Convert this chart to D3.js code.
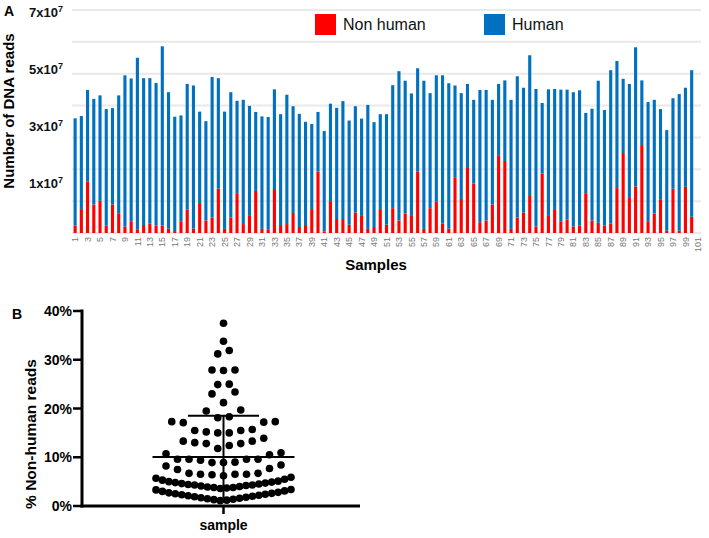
<!DOCTYPE html>
<html><head><meta charset="utf-8">
<script src="https://cdn.jsdelivr.net/npm/d3@7"></script>
<style>body{margin:0;background:#fff} svg{display:block;font-family:"Liberation Sans",Arial,sans-serif}</style>
</head><body><svg id="c" width="709" height="538"></svg>
<script>
// ---------- DATA ----------
const samples = [1,2,3,4,5,6,7,8,9,10,11,12,13,14,15,16,17,18,19,20,21,22,23,24,25,26,27,28,29,30,
 31,32,33,34,35,36,37,38,39,40,41,42,43,44,45,46,47,48,49,50,51,52,53,54,55,56,57,58,59,60,
 61,62,63,64,65,66,67,68,69,70,71,72,73,74,75,76,77,78,79,80,81,82,83,84,85,86,87,88,89,90,
 91,92,93,94,95,96,97,98,99,100,101];
// reads in millions (sample 101 has no bar)
const nonHuman = [2.3,7.5,16.2,8.9,10.1,2.3,8.9,6.2,2.0,3.7,
 1.0,2.5,2.9,2.3,2.3,1.4,0.6,3.7,7.3,1.4,
 9.4,3.9,4.9,13.9,1.3,4.9,12.5,2.8,5.6,13.2,
 1.3,1.0,13.8,2.5,2.8,6.3,1.9,2.5,7.5,19.3,
 0.5,10.0,4.4,4.4,2.6,6.4,5.6,1.3,1.9,7.5,
 2.6,7.8,3.9,6.1,5.6,19.3,1.3,7.8,9.8,3.0,
 1.4,17.5,10.7,20.4,15.5,3.4,3.9,8.9,24.2,22.6,
 1.3,4.9,6.4,11.9,2.0,18.7,5.6,7.5,3.7,4.2,
 2.0,2.4,12.5,3.9,3.2,2.4,3.0,14.1,25.1,11.0,
 14.6,27.6,3.7,6.1,10.4,0.7,13.9,0.7,14.5,5.1];
const human = [33.7,29.2,28.7,33.2,33.1,36.6,30.3,37.0,47.5,44.8,
 54.0,46.1,45.7,44.8,56.3,42.8,35.9,33.2,39.5,44.9,
 28.7,31.2,44.1,34.7,36.8,39.3,29.0,39.0,34.3,24.8,
 35.3,35.4,31.3,34.8,40.6,33.5,35.5,32.4,26.7,18.7,
 31.5,30.6,34.9,37.0,32.7,33.4,30.3,38.9,32.9,29.8,
 34.7,38.6,46.9,41.7,38.2,32.4,46.5,36.1,39.7,46.5,
 45.6,28.8,33.2,26.4,26.3,41.5,41.0,32.9,22.6,25.3,
 40.5,44.3,39.2,43.9,43.2,22.1,39.5,37.7,41.3,40.8,
 42.2,42.4,25.2,35.1,44.6,36.2,48.1,39.9,23.3,35.8,
 43.7,20.3,37.4,35.7,28.5,31.6,28.4,42.9,31.1,46.0];
const seriesNames = ["Non human","Human"];
const seriesColors = ["#ff0000","#0070c0"];
const yTickMantissa = [1,3,5,7];        // x10^7
const gridValues = [0,10,20,30,40,50,60,70]; // millions
const xTickLabels = samples.filter(d => d % 2 === 1);

// Panel B: % non-human reads per sample
const pctNonHuman = [37.5,33.8,31.2,31.9,27.9,27.8,27.9,24.9,25.0,23.0,23.4,21.2,19.5,19.7,18.1,18.3,
 15.0,15.0,15.2,15.5,15.5,15.7,17.1,17.2,17.3,17.3,
 11.8,12.4,12.8,12.8,13.0,13.3,13.3,13.9,
 8.9,8.9,9.0,9.4,9.6,9.6,9.6,9.6,10.5,10.7,10.9,
 6.2,6.4,6.5,6.5,6.5,6.7,6.7,7.5,7.7,8.2,8.4,
 3.6,3.7,3.8,3.8,3.9,4.0,4.1,4.2,4.3,4.3,4.4,4.5,4.6,4.7,4.8,4.9,5.0,5.1,5.3,5.5,5.7,5.9,
 1.1,1.2,1.3,1.4,1.5,1.6,1.7,1.8,1.9,2.0,2.1,2.2,2.3,2.4,2.5,2.6,2.7,2.8,3.0,3.1,3.3,3.4];
const pctTicks = [0,10,20,30,40];

// ---------- CHART ----------
const svg = d3.select("#c");

// ===== Panel A =====
const x = d3.scaleBand().domain(samples).range([72, 701]).paddingInner(0.5).paddingOuter(0.25);
const y = d3.scaleLinear().domain([0, 70]).range([233, 10]);
const yLab = d3.scaleLinear().domain([0, 70]).range([216.5, 17]);

svg.append("g").selectAll("line").data(gridValues).join("line")
  .attr("x1", 72).attr("x2", 701)
  .attr("y1", d => y(d)).attr("y2", d => y(d))
  .attr("stroke", "#e9e9e9").attr("stroke-width", 2);

const rows = nonHuman.map((v, i) => ({sample: samples[i], nonHuman: v, human: human[i]}));
const stack = d3.stack().keys(["nonHuman", "human"])(rows);
svg.append("g").selectAll("g").data(stack).join("g")
  .attr("fill", (d, i) => seriesColors[i])
  .selectAll("rect").data(d => d).join("rect")
  .attr("x", d => x(d.data.sample)).attr("width", x.bandwidth())
  .attr("y", d => y(d[1])).attr("height", d => y(d[0]) - y(d[1]));

// y tick labels
const yt = svg.append("g").selectAll("text").data(yTickMantissa).join("text")
  .attr("x", 63).attr("y", d => yLab(d * 10))
  .attr("text-anchor", "end").attr("font-weight", "bold").attr("font-size", 13).attr("fill", "#111");
yt.append("tspan").text(d => d + "x10");
yt.append("tspan").attr("dy", -5).attr("font-size", 9).text("7");

// x tick labels
svg.append("g").selectAll("text").data(xTickLabels).join("text")
  .attr("transform", d => `translate(${x(d) + x.bandwidth() / 2},237) rotate(-90)`)
  .attr("text-anchor", "end").attr("dy", "0.35em")
  .attr("font-size", 9).attr("fill", "#777").text(d => d);

svg.append("text").attr("x", 376).attr("y", 270).attr("text-anchor", "middle")
  .attr("font-weight", "bold").attr("font-size", 15).text("Samples");
svg.append("text").attr("transform", "translate(14,111) rotate(-90)").attr("text-anchor", "middle")
  .attr("font-weight", "bold").attr("font-size", 15).text("Number of DNA reads");
svg.append("text").attr("x", 4).attr("y", 16).attr("font-weight", "bold").attr("font-size", 14).text("A");

// legend
const legX = [315, 484];
const leg = svg.append("g").selectAll("g").data(seriesNames).join("g")
  .attr("transform", (d, i) => `translate(${legX[i]},14)`);
leg.append("rect").attr("width", 21).attr("height", 21).attr("fill", (d, i) => seriesColors[i]);
leg.append("text").attr("x", 28).attr("y", 16).attr("font-size", 16).attr("fill", "#111").text(d => d);

// ===== Panel B =====
const yB = d3.scaleLinear().domain([0, 40]).range([506, 311]);
const cx = 223.5;

// beeswarm layout: bin sorted values, spread each bin horizontally
const sorted = pctNonHuman.slice().sort(d3.ascending);
const bins = [];
sorted.forEach(v => {
  const b = bins[bins.length - 1];
  if (b && v < b.start + 2.4) b.vals.push(v); else bins.push({start: v, vals: [v]});
});
const dots = [];
bins.forEach(b => {
  const n = b.vals.length;
  const s = n > 1 ? Math.min(11.5, 135 / (n - 1)) : 0;
  b.vals.forEach((v, k) => {
    let off;
    if (n % 2 === 1) off = k === 0 ? 0 : (k % 2 === 1 ? -1 : 1) * Math.ceil(k / 2);
    else off = (k % 2 === 0 ? -1 : 1) * (Math.floor(k / 2) + 0.5);
    dots.push({v, x: cx + off * s});
  });
});

svg.append("g").selectAll("circle").data(dots).join("circle")
  .attr("cx", d => d.x).attr("cy", d => yB(d.v)).attr("r", 3.8).attr("fill", "#000");

const mean = d3.mean(pctNonHuman), sd = d3.deviation(pctNonHuman);
const ebar = svg.append("g").attr("stroke", "#000").attr("stroke-width", 2);
ebar.append("line").attr("x1", cx - 71).attr("x2", cx + 71).attr("y1", yB(mean)).attr("y2", yB(mean));
ebar.append("line").attr("x1", cx - 35.5).attr("x2", cx + 35.5).attr("y1", yB(mean + sd)).attr("y2", yB(mean + sd));
ebar.append("line").attr("x1", cx).attr("x2", cx).attr("y1", yB(mean + sd)).attr("y2", yB(Math.max(0, mean - sd)));

// axes
const ax = svg.append("g").attr("stroke", "#000");
ax.append("line").attr("x1", 82).attr("x2", 82).attr("y1", yB(40) - 1.5).attr("y2", yB(0) + 1.5).attr("stroke-width", 3);
ax.append("line").attr("x1", 80.5).attr("x2", 360).attr("y1", yB(0)).attr("y2", yB(0)).attr("stroke-width", 3);
ax.selectAll(".t").data(pctTicks).join("line").attr("class", "t")
  .attr("x1", 73).attr("x2", 82).attr("y1", d => yB(d)).attr("y2", d => yB(d)).attr("stroke-width", 2.5);
ax.append("line").attr("x1", cx).attr("x2", cx).attr("y1", yB(0)).attr("y2", yB(0) + 8).attr("stroke-width", 2.5);

svg.append("g").selectAll("text").data(pctTicks).join("text")
  .attr("x", 72).attr("y", d => yB(d)).attr("dy", "0.36em").attr("text-anchor", "end")
  .attr("font-weight", "bold").attr("font-size", 14).text(d => d + "%");
svg.append("text").attr("x", cx).attr("y", 530).attr("text-anchor", "middle")
  .attr("font-weight", "bold").attr("font-size", 14).text("sample");
svg.append("text").attr("transform", "translate(36,434) rotate(-90)").attr("text-anchor", "middle")
  .attr("font-weight", "bold").attr("font-size", 15.5).text("% Non-human reads");
svg.append("text").attr("x", 12).attr("y", 319).attr("font-weight", "bold").attr("font-size", 14).text("B");
</script></body></html>
